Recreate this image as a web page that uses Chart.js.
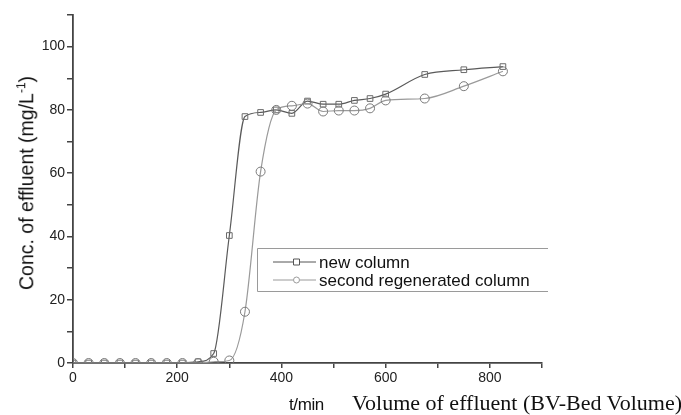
<!DOCTYPE html>
<html>
<head>
<meta charset="utf-8">
<script src="https://cdn.jsdelivr.net/npm/chart.js@4/dist/chart.umd.min.js"></script>
<style>
  html, body { margin: 0; padding: 0; background: #fff; }
  #wrap { position: relative; width: 681px; height: 415px; overflow: hidden; }
  canvas { position: absolute; left: 0; top: 0; }
  .t { position: absolute; white-space: nowrap; color: #111; }
  #ytitle { font: 19.5px "Liberation Sans", Arial, sans-serif; left: 26px; top: 183px; transform: translate(-50%, -50%) rotate(-90deg); }
  #xt1 { font: 17px "Liberation Sans", Arial, sans-serif; left: 289px; top: 395px; letter-spacing: -0.4px; }
  #xt2 { font: 22px "Liberation Serif", "Times New Roman", serif; left: 352px; top: 390px; }
</style>
</head>
<body>
<div id="wrap">
  <canvas id="c" width="681" height="415"></canvas>
  <div class="t" id="ytitle">Conc. of effluent (mg/L<sup style="font-size:12px">-1</sup>)</div>
  <div class="t" id="xt1">t/min</div>
  <div class="t" id="xt2">Volume of effluent (BV-Bed Volume)</div>
</div>
<script>
const volumes = [0, 30, 60, 90, 120, 150, 180, 210, 240, 270, 300, 330, 360, 390, 420, 450, 480, 510, 540, 570, 600, 675, 750, 825];
const newColumn = [0, 0, 0, 0, 0, 0, 0, 0, 0.4, 3, 40.3, 77.9, 79.2, 80, 78.9, 82.8, 81.8, 81.8, 83, 83.6, 85, 91.2, 92.7, 93.7];
const secondRegenerated = [0, 0, 0, 0, 0, 0, 0, 0, 0, 0.4, 0.8, 16.2, 60.5, 80, 81.3, 82, 79.5, 79.8, 79.8, 80.5, 83, 83.6, 87.5, 92.2];
const seriesNames = ["new column", "second regenerated column"];
const xTickLabels = [0, 200, 400, 600, 800];
const yTickLabels = [0, 20, 40, 60, 80, 100];

const toPts = (xs, ys) => xs.map((x, i) => ({ x: x, y: ys[i] }));

const legendPlugin = {
  id: 'boxLegend',
  afterDatasetsDraw(chart) {
    const ctx = chart.ctx;
    ctx.save();
    ctx.strokeStyle = '#9a9a9a';
    ctx.lineWidth = 1;
    ctx.beginPath();
    ctx.moveTo(548, 248.5);
    ctx.lineTo(257.5, 248.5);
    ctx.lineTo(257.5, 291.5);
    ctx.lineTo(548, 291.5);
    ctx.stroke();
    const rows = [
      { y: 262, color: '#555', style: 'rect', name: seriesNames[0] },
      { y: 280, color: '#9a9a9a', style: 'circle', name: seriesNames[1] }
    ];
    rows.forEach(r => {
      ctx.strokeStyle = r.color;
      ctx.lineWidth = 1;
      ctx.beginPath();
      ctx.moveTo(273, r.y); ctx.lineTo(293, r.y);
      ctx.moveTo(300, r.y); ctx.lineTo(316, r.y);
      ctx.stroke();
      ctx.fillStyle = '#fff';
      ctx.beginPath();
      if (r.style === 'rect') { ctx.rect(293.5, r.y - 3, 6, 6); }
      else { ctx.arc(296.5, r.y, 3, 0, Math.PI * 2); }
      ctx.fill(); ctx.stroke();
      ctx.fillStyle = '#111';
      ctx.font = '17px "Liberation Sans", Arial, sans-serif';
      ctx.textBaseline = 'middle';
      ctx.fillText(r.name, 319, r.y + 1);
    });
    ctx.restore();
  }
};

const tickFont = { family: '"Liberation Sans", Arial, sans-serif', size: 14 };

new Chart(document.getElementById('c'), {
  type: 'line',
  data: {
    datasets: [
      {
        label: seriesNames[1],
        data: toPts(volumes, secondRegenerated),
        borderColor: '#9a9a9a',
        borderWidth: 1.2,
        pointStyle: 'circle',
        pointRadius: 4.5,
        pointBorderWidth: 1,
        pointBorderColor: '#7a7a7a',
        pointBackgroundColor: 'rgba(255,255,255,0)',
        cubicInterpolationMode: 'monotone',
        fill: false
      },
      {
        label: seriesNames[0],
        data: toPts(volumes, newColumn),
        borderColor: '#5a5a5a',
        borderWidth: 1.2,
        pointStyle: 'rect',
        pointRadius: 4,
        pointBorderWidth: 1,
        pointBorderColor: '#6a6a6a',
        pointBackgroundColor: 'rgba(255,255,255,0)',
        cubicInterpolationMode: 'monotone',
        fill: false
      }
    ]
  },
  options: {
    responsive: false,
    animation: false,
    events: [],
    layout: { padding: { top: 15, right: 139, left: 0, bottom: 0 } },
    plugins: { legend: { display: false }, tooltip: { enabled: false } },
    scales: {
      x: {
        type: 'linear', min: 0, max: 900,
        afterFit(s) { s.height = 52; },
        ticks: {
          stepSize: 100, autoSkip: false, maxRotation: 0, padding: 2,
          color: '#222', font: tickFont,
          callback: v => xTickLabels.includes(v) ? String(v) : ''
        },
        grid: { drawOnChartArea: false, drawTicks: true, tickLength: 5, color: '#444', lineWidth: 1.5 },
        border: { color: '#444', width: 1.8 }
      },
      y: {
        min: 0, max: 110,
        afterFit(s) { s.width = 73; },
        ticks: {
          stepSize: 10, autoSkip: false, padding: 2,
          color: '#222', font: tickFont,
          callback: v => yTickLabels.includes(v) ? String(v) : ''
        },
        grid: { drawOnChartArea: false, drawTicks: true, tickLength: 6, color: '#444', lineWidth: 1.5 },
        border: { color: '#444', width: 1.8 }
      }
    }
  },
  plugins: [legendPlugin]
});
</script>
</body>
</html>
